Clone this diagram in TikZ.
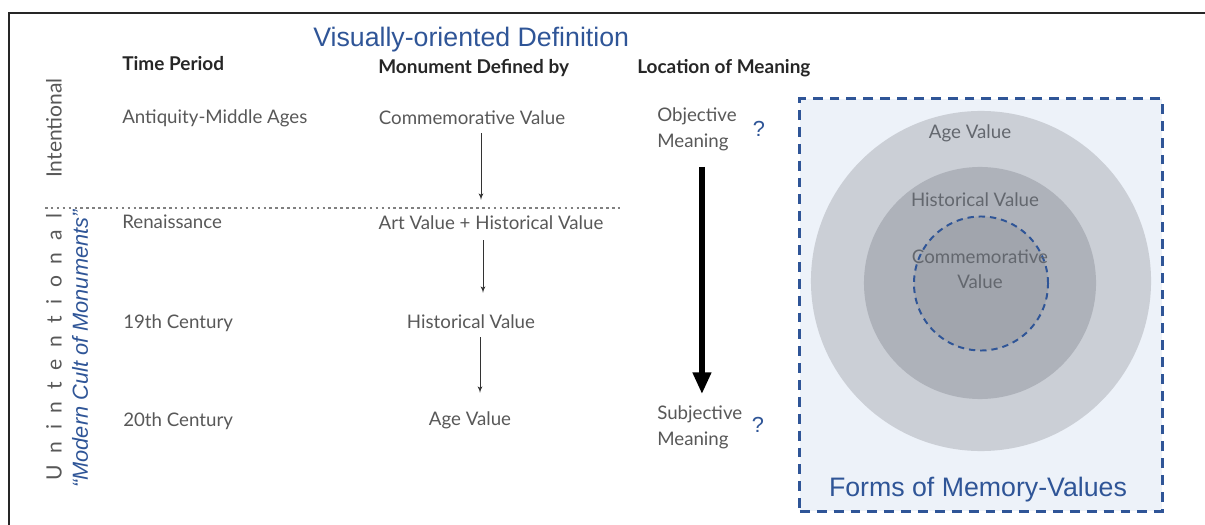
\documentclass[tikz,border=0pt]{standalone}
\usepackage{fontspec}
\setmainfont{Lato}
\newfontfamily\arialfont{Liberation Sans}
\usepackage{tikz}
\usetikzlibrary{calc}
\usetikzlibrary{arrows}
\usetikzlibrary{arrows.meta}

\definecolor{defblue}{HTML}{2F5597}
\definecolor{greytext}{HTML}{585858}
\definecolor{headtext}{HTML}{262626}
\definecolor{memfill}{HTML}{EDF2F9}
\definecolor{ringout}{HTML}{CBCFD6}
\definecolor{ringmid}{HTML}{AEB2BA}
\definecolor{ringin}{HTML}{A1A5AD}
\definecolor{ringtext}{HTML}{63676E}

\begin{document}
\begin{tikzpicture}[x=0.025cm,y=-0.025cm]
      \tikzset{
        head/.style={anchor=base west, inner sep=0pt, text=headtext, font=\fontsize{13.5}{16}\selectfont\bfseries},
        period/.style={anchor=base west, inner sep=0pt, text=greytext, font=\fontsize{13.3}{16}\selectfont},
        value/.style={anchor=base, inner sep=0pt, text=greytext, font=\fontsize{13.3}{16}\selectfont},
        meaning/.style={anchor=west, inner sep=0pt, align=left, text=greytext, font=\fontsize{13.3}{18.5}\selectfont},
        quest/.style={inner sep=0pt, text=defblue, font=\arialfont\fontsize{15.5}{17}\selectfont},
        side/.style={rotate=90, inner sep=0pt, text=greytext, font=\fontsize{15}{18}\selectfont},
        ring/.style={circle, draw=none, inner sep=0pt},
        ringlabel/.style={anchor=base, inner sep=0pt, text=ringtext, font=\fontsize{13.3}{17.8}\selectfont},
        line/.style={draw, -latex', line width=0.6pt, black!80},
        bigline/.style={draw, line width=4.3pt, -{Triangle[length=15.5pt,width=12.5pt]}},
      }
      \useasboundingbox (0,0) rectangle (1205,525);
      % frame
      \draw[line width=1.4pt, black!85] (9,530) -- (9,13) -- (1210,13);

      \node [anchor=base west, inner sep=0pt, text=defblue, font=\arialfont\fontsize{19}{22}\selectfont] (title) at (313,47) {Visually-oriented Definition};

      \node [head] (hperiod) at (122,71) {Time Period};
      \node [head] (hdefined) at (378,74) {Monument Defined by};
      \node [head] (hlocation) at (637,74) {Location of Meaning};

      \node [side] (intent) at (54,128) {Intentional};
      \node [side] (unintent) at (54,347) {\makebox[190pt]{U\hfill n\hfill i\hfill n\hfill t\hfill e\hfill n\hfill t\hfill i\hfill o\hfill n\hfill a\hfill l}};
      \node [rotate=90, inner sep=0pt, text=defblue, font=\arialfont\itshape\fontsize{15.5}{18}\selectfont] (cult) at (80,349) {“Modern Cult of Monuments”};

      \node [period] (antiq) at (122,124) {Antiquity-Middle Ages};
      \node [period] (renais) at (122,229) {Renaissance};
      \node [period] (cent19) at (123,328) {19th Century};
      \node [period] (cent20) at (123,426) {20th Century};

      \node [value] (comm) at (472,125) {Commemorative Value};
      \node [value] (art) at (491,230) {Art Value + Historical Value};
      \node [value] (hist) at (471,328) {Historical Value};
      \node [value] (age) at (470,425) {Age Value};

      \node [meaning] (objmean) at (657,129) {Objective\\Meaning};
      \node [meaning] (subjmean) at (657,427) {Subjective\\Meaning};
      \node [quest] (q1) at (759,129) {?};
      \node [quest] (q2) at (758,425) {?};

      \draw [line width=1.6pt, black!50, dash pattern=on 1.8pt off 2.4pt] (45,208) -- (622,208);

      \path [line] ($(comm.south)+(9,8)$) -- ($(comm.south |- art.north)+(9,-16)$);
      \path [line] ($(art.south)+(-8,10)$) -- ($(art.south |- hist.north)+(-8,-21)$);
      \path [line] ($(hist.south)+(9,9)$) -- ($(hist.south |- age.north)+(9,-18)$);
      \path [bigline] ($(objmean.south)+(5,16)$) -- ($(objmean.south |- subjmean.north)+(5,-11)$);

      % memory values
      \node [draw=defblue, fill=memfill, line width=2.1pt, dash pattern=on 7pt off 5pt, minimum width=9.05cm, minimum height=10.3cm, inner sep=0pt] (memory) at (981,305) {};
      \node [ring, fill=ringout, minimum size=8.5cm] (agering) at (981,281) {};
      \node [ring, fill=ringmid, minimum size=5.8cm] (histring) at (980,283) {};
      \node [ring, fill=ringin, draw=defblue, line width=1.4pt, dash pattern=on 4.5pt off 3.5pt, minimum size=3.35cm] (commring) at (981,283.5) {};
      \node [ringlabel] (agelab) at (970,139) {Age Value};
      \node [ringlabel] (histlab) at (975,207) {Historical Value};
      \node [ringlabel, anchor=center, align=center] (commlab) at (980,269) {Commemorative\\Value};
      \node [anchor=base, inner sep=0pt, text=defblue, font=\arialfont\fontsize{19}{22}\selectfont] (memlab) at (978,496) {Forms of Memory-Values};
\end{tikzpicture}
\end{document}
